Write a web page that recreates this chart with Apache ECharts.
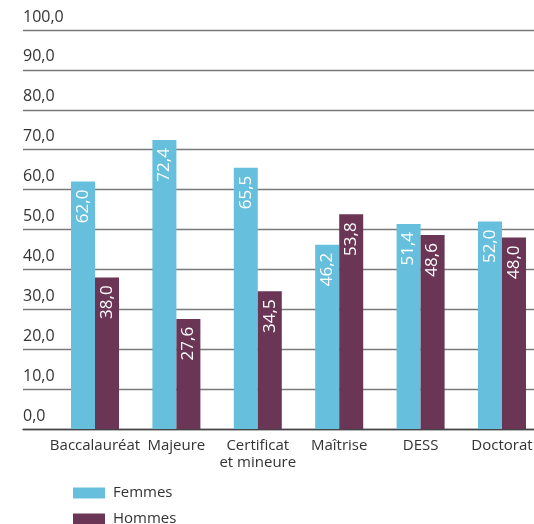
<!DOCTYPE html>
<html><head><meta charset="utf-8">
<script src="https://cdn.jsdelivr.net/npm/echarts@6/dist/echarts.min.js"></script>
<style>html,body{margin:0;padding:0;background:#fff}#c{width:534px;height:524px}</style>
</head><body><div id="c"></div>
<script>
const categories = ['Baccalauréat', 'Majeure', 'Certificat\net mineure', 'Maîtrise', 'DESS', 'Doctorat'];
const femmes = [62.0, 72.4, 65.5, 46.2, 51.4, 52.0];
const hommes = [38.0, 27.6, 34.5, 53.8, 48.6, 48.0];
const seriesNames = ['Femmes', 'Hommes'];
const FONT = '"Open Sans", sans-serif';
const fmt = v => v.toFixed(1).replace('.', ',');

const chart = echarts.init(document.getElementById('c'), null, {renderer: 'canvas'});
const valLabel = {
  show: true, position: 'insideTop', rotate: 90, align: 'right', verticalAlign: 'middle',
  distance: 8, color: '#fff', fontSize: 17, fontFamily: FONT,
  formatter: p => fmt(p.value)
};
chart.setOption({
  animation: false,
  grid: [
    {left: 23, right: 0, top: 30, bottom: 95, containLabel: false, outerBoundsMode: 'none'},
    {left: 54.3, right: -8.7, top: 30, bottom: 95, containLabel: false, outerBoundsMode: 'none'}
  ],
  xAxis: [
    {gridIndex: 0, type: 'category', data: categories, axisLabel: {show: false}, axisTick: {show: false},
     axisLine: {show: true, lineStyle: {color: '#444', width: 1.3}}, splitLine: {show: false}},
    {gridIndex: 1, type: 'category', data: categories, axisTick: {show: false}, axisLine: {show: false},
     axisLabel: {color: '#333', fontSize: 15, fontFamily: FONT, margin: 8, lineHeight: 17, interval: 0}}
  ],
  yAxis: [
    {gridIndex: 0, type: 'value', min: 0, max: 100, interval: 10, position: 'left',
     axisLine: {show: false}, axisTick: {show: false},
     splitLine: {show: true, lineStyle: {color: '#7a7a7a', width: 1.3}},
     axisLabel: {inside: true, margin: 0, verticalAlign: 'bottom', padding: [0, 0, 5, 0],
       color: '#333', fontSize: 16, fontFamily: FONT, formatter: v => fmt(v)}},
    {gridIndex: 1, type: 'value', min: 0, max: 100, interval: 10, show: false, splitLine: {show: false}}
  ],
  legend: {
    orient: 'vertical', left: 73, top: 485.5, height: 60, padding: 0, itemWidth: 32, itemHeight: 11, itemGap: 11,
    icon: 'rect', data: seriesNames,
    textStyle: {color: '#333', fontSize: 15, lineHeight: 14, fontFamily: FONT, padding: [0, 0, 0, 3]}
  },
  series: [
    {name: seriesNames[0], type: 'bar', xAxisIndex: 1, yAxisIndex: 1, data: femmes, barWidth: 24, barGap: '0%',
     itemStyle: {color: '#66bfdd'}, label: valLabel},
    {name: seriesNames[1], type: 'bar', xAxisIndex: 1, yAxisIndex: 1, data: hommes, barWidth: 24, barGap: '0%',
     itemStyle: {color: '#6b3655'}, label: valLabel}
  ]
});
</script></body></html>
